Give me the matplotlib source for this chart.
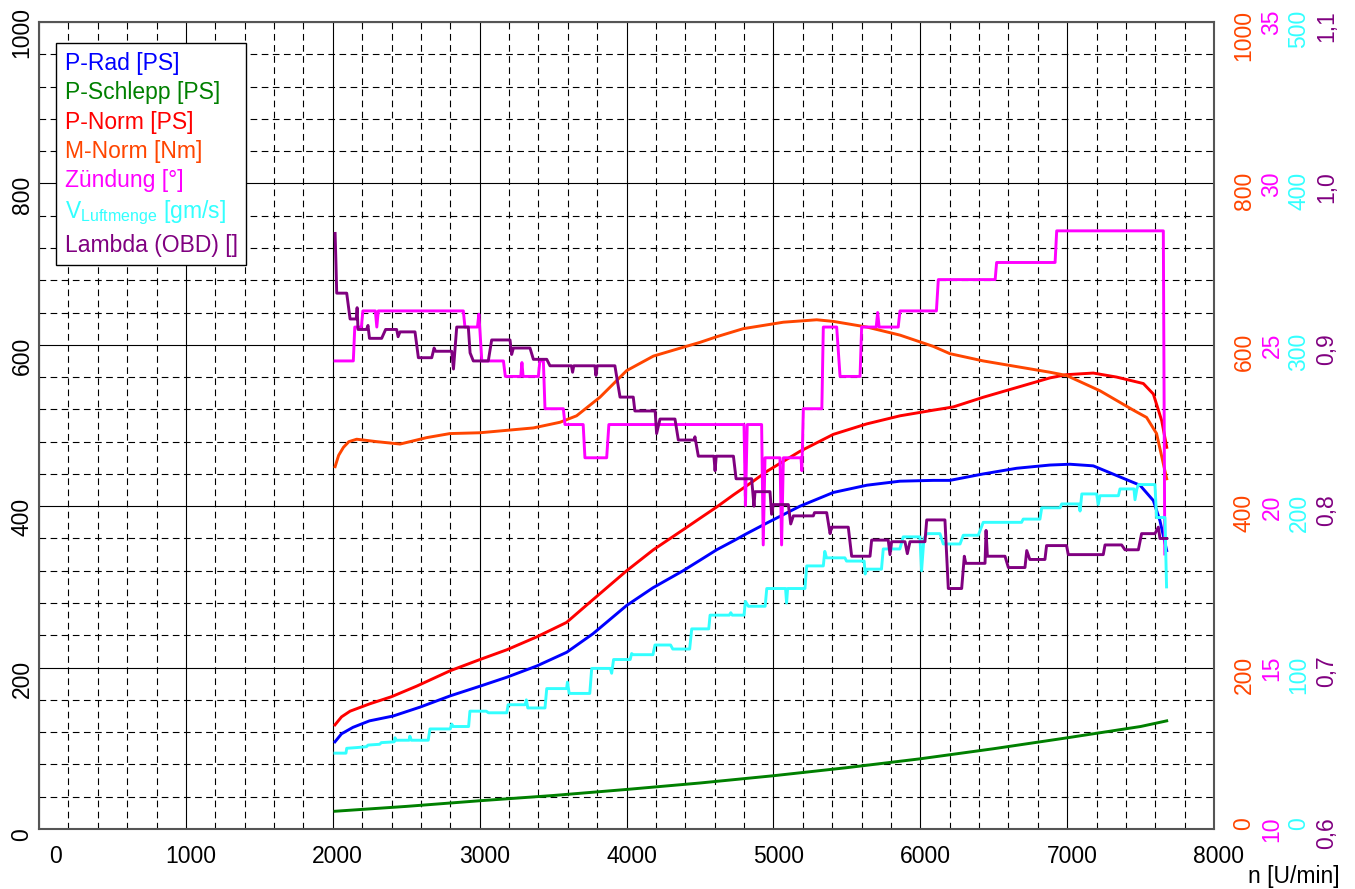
import matplotlib.pyplot as plt
from matplotlib.ticker import MultipleLocator

plt.rcParams['font.family'] = ['Liberation Sans', 'DejaVu Sans']
plt.rcParams['font.size'] = 16.5

# P-Rad [PS]
rad_n = [2015, 2060, 2138, 2250, 2411, 2594, 2800, 3003, 3184, 3389, 3593, 3772, 4001, 4181,
         4385, 4500, 4614, 4728, 4818, 4954, 5181, 5408, 5636, 5862, 6089, 6202, 6429, 6656,
         6883, 7019, 7178, 7337, 7496, 7587, 7632, 7678]
rad_ps = [108, 118, 126, 134, 140, 151, 165, 177, 188, 202, 219, 242, 277, 299,
          320, 333, 346, 357, 366, 379, 400, 417, 426, 431, 432, 432, 440, 447,
          451, 452, 450, 438, 426, 407, 382, 345]

# P-Schlepp [PS]
schlepp_n = [2015, 2500, 3000, 3500, 4000, 4500, 5000, 5500, 6000, 6500, 7000, 7500, 7678]
schlepp_ps = [22, 28, 35, 41.5, 49, 57, 66, 76, 87, 99.5, 113, 127, 134]

# P-Norm [PS]
norm_n = [2015, 2060, 2118, 2250, 2401, 2571, 2798, 3002, 3184, 3388, 3592, 3751, 4001, 4183,
          4387, 4500, 4614, 4728, 4863, 4954, 5181, 5408, 5636, 5862, 6089, 6225, 6429, 6656,
          6883, 6996, 7178, 7337, 7519, 7587, 7644, 7678]
norm_ps = [129, 139, 146, 155, 164, 177, 196, 210, 222, 238, 256, 281, 320, 346,
           371, 385, 399, 414, 431, 443, 468, 489, 502, 512, 519, 523, 535, 547,
           559, 563, 565, 560, 552, 539, 506, 473]

# M-Norm [Nm]
moment_n = [2016, 2040, 2073, 2110, 2163, 2299, 2458, 2640, 2798, 3002, 3184, 3366, 3547, 3660,
            3819, 4001, 4183, 4387, 4500, 4614, 4795, 5000, 5068, 5295, 5408, 5636, 5862, 6089,
            6202, 6429, 6656, 6883, 6996, 7224, 7451, 7541, 7609, 7678]
moment_nm = [449, 463, 473, 480, 483, 480, 477, 485, 490, 491, 494, 497, 504, 512,
             535, 568, 586, 597, 603, 610, 620, 626, 628, 631, 629, 622, 612, 598,
             589, 580, 573, 566, 562, 543, 519, 510, 490, 434]

# Zündung [°]
zuend_n = [2016, 2140, 2150, 2195, 2205, 2290, 2300, 2310, 2889, 2900, 2985, 2995, 3015, 3162,
           3175, 3280, 3288, 3296, 3400, 3410, 3434, 3445, 3570, 3581, 3705, 3717, 3865, 3880,
           4800, 4810, 4822, 4920, 4931, 4943, 5045, 5056, 5068, 5188, 5194, 5204, 5330, 5340,
           5431, 5454, 5590, 5601, 5700, 5710, 5720, 5850, 5862, 6110, 6123, 6510, 6520, 6918,
           6929, 7655, 7665]
zuend_deg = [24.5, 24.5, 25.55, 25.55, 26.05, 26.05, 25.55, 26.05, 26.05, 25.55, 25.55, 25.95, 24.5, 24.5,
             24.02, 24.02, 24.45, 24.02, 24.02, 24.5, 24.5, 23.02, 23.02, 22.53, 22.53, 21.5, 21.5, 22.53,
             22.53, 20.02, 22.53, 22.53, 18.8, 21.5, 21.5, 18.8, 21.5, 21.5, 21.1, 23.02, 23.02, 25.55,
             25.55, 24.02, 24.02, 25.55, 25.55, 26.0, 25.55, 25.55, 26.05, 26.05, 27.02, 27.02, 27.55, 27.55,
             28.53, 28.53, 18.52]

# V Luftmenge [gm/s]
luft_n = [2015, 2090, 2095, 2170, 2230, 2240, 2320, 2330, 2418, 2424, 2432, 2520, 2525, 2535,
          2650, 2662, 2800, 2810, 2820, 2925, 2934, 3045, 3060, 3185, 3194, 3310, 3318, 3328,
          3445, 3457, 3592, 3598, 3610, 3750, 3763, 3890, 3899, 3912, 4025, 4035, 4045, 4180,
          4194, 4300, 4315, 4430, 4444, 4560, 4569, 4700, 4710, 4720, 4800, 4810, 4830, 4944,
          4955, 5083, 5090, 5097, 5215, 5227, 5340, 5350, 5362, 5487, 5498, 5618, 5625, 5634,
          5736, 5748, 5861, 5884, 5998, 6009, 6025, 6044, 6134, 6157, 6271, 6293, 6395, 6429,
          6690, 6701, 6815, 6827, 6952, 6963, 7080, 7088, 7100, 7201, 7212, 7224, 7349, 7360,
          7455, 7462, 7475, 7485, 7598, 7609, 7666, 7677]
luft_gs = [47, 47, 50, 50.5, 51, 52, 52.5, 53.5, 54, 56.5, 55, 55, 57.5, 55,
           55, 62, 62, 65, 63.5, 63.5, 73, 73, 72, 72, 77, 77, 80, 75,
           75, 87, 87, 91, 84, 84, 99.5, 99.5, 96.5, 105, 105, 108.7, 108, 108,
           114, 114, 111.5, 111.5, 124, 124, 132.5, 132.5, 134, 132.5, 132.5, 141, 138, 138,
           149, 149, 140, 149, 149, 163, 163, 172, 168, 168, 166, 166, 158, 161,
           161, 173.5, 173.5, 181, 181, 160, 180, 183, 183, 176.6, 176.6, 182, 182, 190,
           190, 192, 192, 199, 199, 201.4, 201.4, 197, 207.6, 207.6, 201, 206.5, 206.5, 210.7,
           210.7, 204, 210.7, 213.4, 213.4, 193, 193, 150]

# Lambda (OBD) []
lam_n = [2016, 2022, 2027, 2095, 2118, 2160, 2166, 2172, 2230, 2240, 2250, 2333, 2360, 2435,
         2445, 2458, 2560, 2583, 2674, 2690, 2700, 2810, 2822, 2844, 2923, 2935, 2957, 3059,
         3082, 3207, 3218, 3230, 3343, 3366, 3457, 3479, 3625, 3633, 3641, 3785, 3792, 3800,
         3921, 3956, 4046, 4057, 4195, 4205, 4228, 4330, 4353, 4460, 4466, 4489, 4595, 4603,
         4611, 4728, 4746, 4852, 4868, 4875, 4977, 4988, 4999, 5102, 5118, 5136, 5272, 5280,
         5363, 5386, 5397, 5510, 5533, 5658, 5669, 5782, 5794, 5805, 5896, 5912, 5930, 6032,
         6044, 6168, 6191, 6282, 6300, 6310, 6441, 6448, 6457, 6577, 6600, 6713, 6725, 6746,
         6849, 6860, 6996, 7008, 7246, 7258, 7371, 7394, 7485, 7507, 7598, 7621, 7632, 7678]
lam_val = [0.969, 0.95, 0.932, 0.932, 0.916, 0.916, 0.923, 0.9095, 0.9095, 0.912, 0.904, 0.904, 0.9095, 0.9095,
           0.905, 0.908, 0.908, 0.892, 0.892, 0.898, 0.896, 0.896, 0.885, 0.911, 0.911, 0.895, 0.890, 0.890,
           0.903, 0.903, 0.894, 0.898, 0.898, 0.891, 0.891, 0.887, 0.887, 0.883, 0.887, 0.887, 0.881, 0.887,
           0.887, 0.8676, 0.8676, 0.859, 0.859, 0.845, 0.854, 0.854, 0.841, 0.841, 0.843, 0.831, 0.831, 0.822,
           0.831, 0.831, 0.817, 0.817, 0.80, 0.809, 0.809, 0.795, 0.801, 0.801, 0.789, 0.794, 0.794, 0.796,
           0.796, 0.783, 0.787, 0.787, 0.769, 0.769, 0.779, 0.779, 0.770, 0.778, 0.778, 0.7706, 0.778, 0.778,
           0.7915, 0.7915, 0.749, 0.749, 0.769, 0.7646, 0.7646, 0.785, 0.769, 0.769, 0.762, 0.762, 0.7725, 0.767,
           0.767, 0.7756, 0.7756, 0.770, 0.770, 0.776, 0.776, 0.773, 0.773, 0.783, 0.783, 0.787, 0.780, 0.780]

# Achsenbereiche (rechte Skalen)
m_ticks = [0, 200, 400, 600, 800, 1000]
z_ticks = [10, 15, 20, 25, 30, 35]
l_ticks = [0, 100, 200, 300, 400, 500]
lam_ticks = [0.6, 0.7, 0.8, 0.9, 1.0, 1.1]
p_ticks = [0, 200, 400, 600, 800, 1000]
n_ticks = [0, 1000, 2000, 3000, 4000, 5000, 6000, 7000, 8000]

W, H = 1355, 889
fig = plt.figure(figsize=(W / 100, H / 100), dpi=100)
ax = fig.add_axes([39 / W, 1 - 829 / H, (1214 - 39) / W, (829 - 22) / H])
ax.set_xlim(0, 8000)
ax.set_ylim(0, 1000)
ax.xaxis.set_major_locator(MultipleLocator(1000))
ax.xaxis.set_minor_locator(MultipleLocator(200))
ax.yaxis.set_major_locator(MultipleLocator(200))
ax.yaxis.set_minor_locator(MultipleLocator(40))
ax.grid(which='major', color='black', lw=0.8)
ax.grid(which='minor', color='black', lw=0.8, linestyle=(0, (6, 4)))
ax.tick_params(which='both', length=0, labelbottom=False, labelleft=False)
for s in ax.spines.values():
    s.set_color('#555555')
    s.set_linewidth(1.5)

lw = 2.1
l1, = ax.plot(rad_n, rad_ps, color='#0000ff', lw=lw)
l2, = ax.plot(schlepp_n, schlepp_ps, color='#008000', lw=lw)
l3, = ax.plot(norm_n, norm_ps, color='#ff0000', lw=lw)

def twin(lo, hi):
    a = ax.twinx()
    a.set_ylim(lo, hi)
    a.axis('off')
    return a

ax_m = twin(0, 1000)
ax_z = twin(10, 35)
ax_l = twin(0, 500)
ax_lam = twin(0.6, 1.1)

l4, = ax_m.plot(moment_n, moment_nm, color='#ff4500', lw=lw)
l5, = ax_z.plot(zuend_n, zuend_deg, color='#ff00ff', lw=lw)
l6, = ax_l.plot(luft_n, luft_gs, color='#33ffff', lw=lw)
l7, = ax_lam.plot(lam_n, lam_val, color='#800080', lw=lw)

# Beschriftung linke Achse
for v in p_ticks:
    off = -6 if v == 0 else -11
    ax.annotate(str(v), (0, v), xycoords=ax.get_yaxis_transform(),
                xytext=(-17, off), textcoords='offset pixels',
                rotation=90, ha='center', va='center', annotation_clip=False)

# Beschriftung x-Achse
for v in n_ticks:
    dx = 16 if v == 0 else 5
    ax.annotate(str(v), (v, 0), xycoords=ax.get_xaxis_transform(),
                xytext=(dx, -16), textcoords='offset pixels',
                ha='center', va='top', annotation_clip=False)

# rechte Skalen
right_axes = [
    (ax_m, m_ticks, '#ff4500', 30, '{:g}'),
    (ax_z, z_ticks, '#ff00ff', 58, '{:g}'),
    (ax_l, l_ticks, '#33ffff', 85, '{:g}'),
    (ax_lam, lam_ticks, '#800080', 113, '{:.1f}'),
]
for a, ticks, col, xoff, fmt in right_axes:
    for v in ticks:
        txt = fmt.format(v).replace('.', ',')
        a.annotate(txt, (1, v), xycoords=a.get_yaxis_transform(),
                   xytext=(xoff, 12), textcoords='offset pixels',
                   rotation=90, ha='center', va='top', color=col,
                   annotation_clip=False)

fig.text(1340 / W, 1 - 877 / H, 'n [U/min]', ha='right', va='center')

labels = ['P-Rad [PS]', 'P-Schlepp [PS]', 'P-Norm [PS]', 'M-Norm [Nm]', 'Zündung [°]',
          r'V$_\mathregular{Luftmenge}$ [gm/s]', 'Lambda (OBD) []']
leg = ax_lam.legend([l1, l2, l3, l4, l5, l6, l7], labels, loc='upper left',
                    bbox_to_anchor=(56 / W, 1 - 43 / H), bbox_transform=fig.transFigure,
                    borderaxespad=0, handlelength=0, handletextpad=0, labelcolor='linecolor',
                    fancybox=False, framealpha=1, edgecolor='black', fontsize=16.5,
                    labelspacing=0.28, borderpad=0.38)
leg.get_frame().set_linewidth(1.0)
for h in leg.legend_handles:
    h.set_visible(False)

fig.savefig('out.png', dpi=100)
